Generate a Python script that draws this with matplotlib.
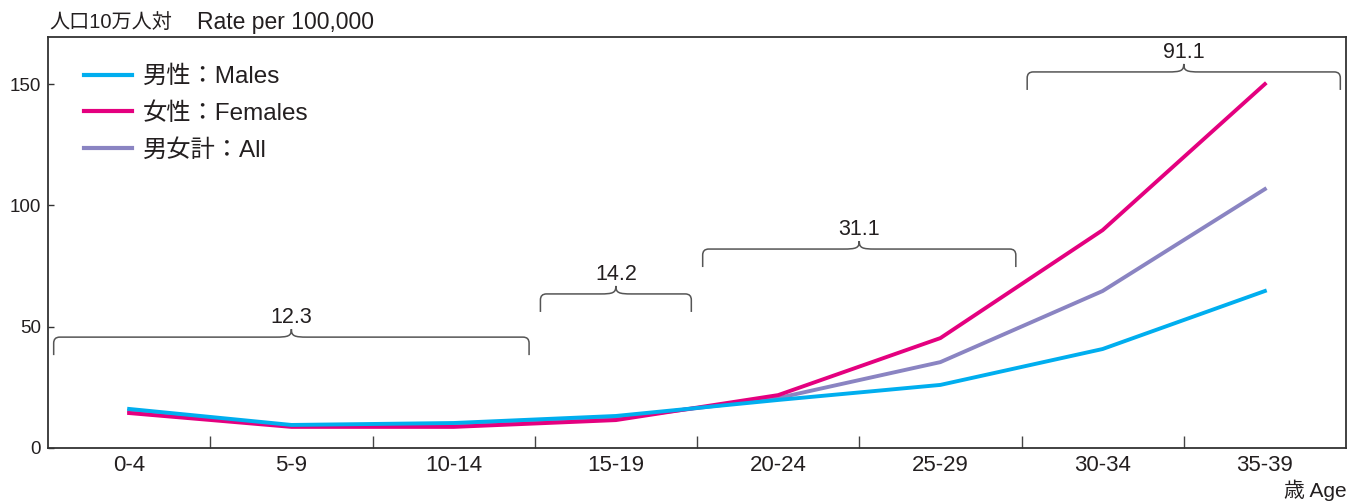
import matplotlib
matplotlib.use('Agg')
import matplotlib.pyplot as plt
from matplotlib.path import Path
from matplotlib.patches import PathPatch
from matplotlib.ticker import FixedLocator

plt.rcParams['font.family'] = ['Liberation Sans', 'Noto Sans CJK JP', 'DejaVu Sans']

age_groups = ['0-4', '5-9', '10-14', '15-19', '20-24', '25-29', '30-34', '35-39']
males = [16.1, 9.5, 10.3, 13.2, 19.8, 26.0, 40.8, 64.7]
females = [14.4, 8.7, 8.7, 11.5, 21.8, 45.3, 89.8, 150.0]
all_sexes = [15.2, 9.1, 9.5, 12.3, 20.6, 35.4, 64.7, 106.7]
y_ticks = [0, 50, 100, 150]
series_labels = ['男性：Males', '女性：Females', '男女計：All']
bracket_labels = ['12.3', '14.2', '31.1', '91.1']
bracket_groups = [(0, 2), (3, 3), (4, 5), (6, 7)]

C_M = '#00AEEF'
C_F = '#E4007F'
C_A = '#8A84C2'
DARK = '#333333'
TXT = '#231F20'

fig = plt.figure(figsize=(13.49, 5.01), dpi=100)
ax = fig.add_axes([48/1349, 53/501, 1298/1349, 411/501])
x = list(range(len(age_groups)))
ymax = 169.4
ax.set_xlim(-0.5, 7.5)
ax.set_ylim(0, ymax)

ax.plot(x, all_sexes, color=C_A, lw=2.8, label=series_labels[2], zorder=3)
ax.plot(x, females, color=C_F, lw=2.8, label=series_labels[1], zorder=4)
ax.plot(x, males, color=C_M, lw=2.8, label=series_labels[0], zorder=5)

h, l = ax.get_legend_handles_labels()
order = [2, 1, 0]
leg = ax.legend([h[i] for i in order], [l[i] for i in order], loc='upper left',
                bbox_to_anchor=(0.0275, 0.93), frameon=False, fontsize=17.5,
                handlelength=2.0, handletextpad=0.45, labelspacing=0.58,
                borderaxespad=0, borderpad=0)
for ln in leg.get_lines():
    ln.set_linewidth(3.0)
for t in leg.get_texts():
    t.set_color(TXT)

for s in ax.spines.values():
    s.set_color(DARK)
    s.set_linewidth(1.3)

ax.set_yticks(y_ticks)
ax.set_yticklabels([str(v) for v in y_ticks], fontsize=13.5, color=TXT)
ax.tick_params(axis='y', direction='in', length=4, width=1, color=DARK, pad=5)
ax.set_xticks(x)
ax.set_xticklabels(age_groups, fontsize=16, color=TXT)
ax.tick_params(axis='x', which='major', length=0, pad=5)
ax.xaxis.set_minor_locator(FixedLocator([i + 0.5 for i in range(len(age_groups) - 1)]))
ax.tick_params(axis='x', which='minor', direction='in', length=9, width=1, color='#444444')

# braces
px_x = 1298 / 8.0
px_y = 411 / ymax
bracket_levels = [45.7, 63.5, 82.0, 155.0]

def brace(x0, x1, yl, label):
    dx = 1 / px_x
    dy = 1 / px_y
    xc = (x0 + x1) / 2
    r = 6
    verts = [
        (x0, yl - 18 * dy),
        (x0, yl - r * dy),
        (x0, yl), (x0 + r * dx, yl),
        (xc - 16 * dx, yl),
        (xc - 3 * dx, yl), (xc, yl + 1 * dy), (xc, yl + 8 * dy),
        (xc, yl + 1 * dy), (xc + 3 * dx, yl), (xc + 16 * dx, yl),
        (x1 - r * dx, yl),
        (x1, yl), (x1, yl - r * dy),
        (x1, yl - 18 * dy),
    ]
    codes = [Path.MOVETO, Path.LINETO, Path.CURVE3, Path.CURVE3, Path.LINETO,
             Path.CURVE4, Path.CURVE4, Path.CURVE4,
             Path.CURVE4, Path.CURVE4, Path.CURVE4,
             Path.LINETO, Path.CURVE3, Path.CURVE3, Path.LINETO]
    ax.add_patch(PathPatch(Path(verts, codes), fill=False, edgecolor='#555555',
                           lw=1.1, clip_on=False, zorder=2))
    ax.text(xc, yl + 9 * dy, label, ha='center', va='bottom', fontsize=15.5,
            color=TXT)

for (g0, g1), lab, lev in zip(bracket_groups, bracket_labels, bracket_levels):
    brace(g0 - 0.465, g1 + 0.465, lev, lab)

fig.text(49/1349, 1 - 22/501, '人口10万人対', ha='left', va='center',
         fontsize=14.5, color=TXT)
fig.text(197/1349, 1 - 22/501, 'Rate per 100,000', ha='left', va='center',
         fontsize=16.5, color=TXT)
fig.text(1347/1349, 1 - 490/501, '歳 Age', ha='right', va='center',
         fontsize=15, color=TXT)

fig.savefig('out.png', dpi=100)
